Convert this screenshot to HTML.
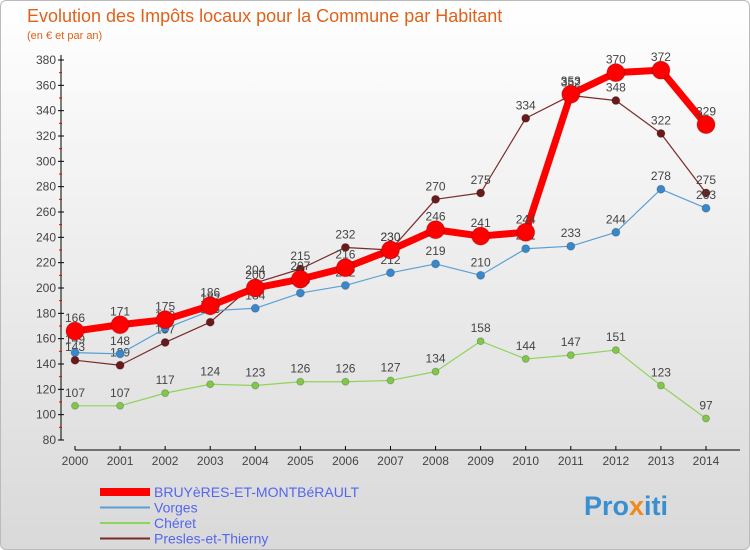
<!DOCTYPE html>
<html><head><meta charset="utf-8"><style>
body{margin:0;width:750px;height:550px;overflow:hidden;font-family:"Liberation Sans",sans-serif}
#wrap{position:absolute;left:0;top:0;width:748px;height:548px;border:1px solid #bbb;border-radius:6px;background:linear-gradient(#ffffff,#d9d9d9)}
</style></head><body>
<div id="wrap">
<svg id="svg" width="750" height="550" style="position:absolute;left:-1px;top:-1px">
<text x="27" y="22" font-size="18" fill="#e0621a">Evolution des Impôts locaux pour la Commune par Habitant</text>
<text x="27" y="39" font-size="11" fill="#e0621a">(en € et par an)</text>
<g id="axes"></g><g id="series"></g><g id="legend"></g>
<text x="584" y="515" font-size="27" font-weight="bold" fill="#3a8fd0">Pro<tspan fill="#f08a1c">x</tspan>iti</text>
</svg></div>
<script>
const years=[2000,2001,2002,2003,2004,2005,2006,2007,2008,2009,2010,2011,2012,2013,2014];
const bruyeres=[166,171,175,186,200,207,216,230,246,241,244,353,370,372,329];
const vorges=[149,148,168,182,184,196,202,212,219,210,231,233,244,278,263];
const cheret=[107,107,117,124,123,126,126,127,134,158,144,147,151,123,97];
const presles=[143,139,157,173,204,215,232,230,270,275,334,352,348,322,275];
const yTicks=[80,100,120,140,160,180,200,220,240,260,280,300,320,340,360,380];
const seriesNames=["BRUYèRES-ET-MONTBéRAULT","Vorges","Chéret","Presles-et-Thierny"];
const NS="http://www.w3.org/2000/svg";
const X=i=>75+i*(706-75)/(years.length-1);
const Y=v=>440-(v-80)*(380/300);
function mk(p,t,a,txt){const e=document.createElementNS(NS,t);for(const k in a)e.setAttribute(k,a[k]);if(txt!==undefined)e.textContent=txt;p.appendChild(e);return e;}
const ax=document.getElementById('axes');
const yl=mk(ax,'line',{x1:61,y1:55,x2:61,y2:440,stroke:'#000'});


const xl=mk(ax,'line',{x1:75,y1:450,x2:740,y2:450,stroke:'#000'});


yTicks.forEach(v=>{
 mk(ax,'line',{x1:58,y1:Y(v),x2:64,y2:Y(v),stroke:'#000'});
 if(v<380)mk(ax,'line',{x1:59,y1:Y(v+10),x2:62,y2:Y(v+10),stroke:'#e00'});
 const t=mk(ax,'text',{x:56,y:Y(v)+4,'font-size':12,'text-anchor':'end',fill:'#444'},v);
 
 
});
years.forEach((y,i)=>{
 mk(ax,'line',{x1:X(i),y1:446,x2:X(i),y2:450,stroke:'#000'});
 const t=mk(ax,'text',{x:X(i),y:465,'font-size':12,'text-anchor':'middle',fill:'#444'},y);
 
 
});
const sg=document.getElementById('series');
const defs=[[presles,'#7a2a2a',1.2,4,'#6a1a1a'],[cheret,'#8fd45a',1.2,3.5,'#80c84a'],[vorges,'#5aa0d6',1.2,4,'#3a88cc'],[bruyeres,'#ff0000',7,9,'#ff0000']];
const names=['presles-et-thierny','cheret','vorges','bruyeres-et-montberault'];
defs.forEach(([d,c,w,r,mc],k)=>{
 const g=mk(sg,'g',{});
 
 
 const pl=mk(g,'polyline',{points:d.map((v,i)=>X(i)+','+Y(v)).join(' '),fill:'none',stroke:c,'stroke-width':w,'stroke-linejoin':'round'});
 
 
 d.forEach((v,i)=>{
  const p=mk(g,'circle',{cx:X(i),cy:Y(v),r:r,fill:mc,stroke:'rgba(0,0,0,0.2)'});
  
  
  const t=mk(g,'text',{x:X(i),y:Y(v)-9,'font-size':12,'text-anchor':'middle',fill:'#444'},v);
  
  
 });
});
const lg=document.getElementById('legend');
const lc=['#ff0000','#5aa0d6','#8fd45a','#7a2a2a'],lw=[8,2,2,2];
seriesNames.forEach((n,i)=>{
 const y=492+i*15.5;
 const g=mk(lg,'g',{});
 
 
 mk(g,'line',{x1:100,y1:y,x2:150,y2:y,stroke:lc[i],'stroke-width':lw[i]});
 mk(g,'text',{x:154,y:y+5,'font-size':14,fill:'#5566ee'},n);
});
</script>
</body></html>
